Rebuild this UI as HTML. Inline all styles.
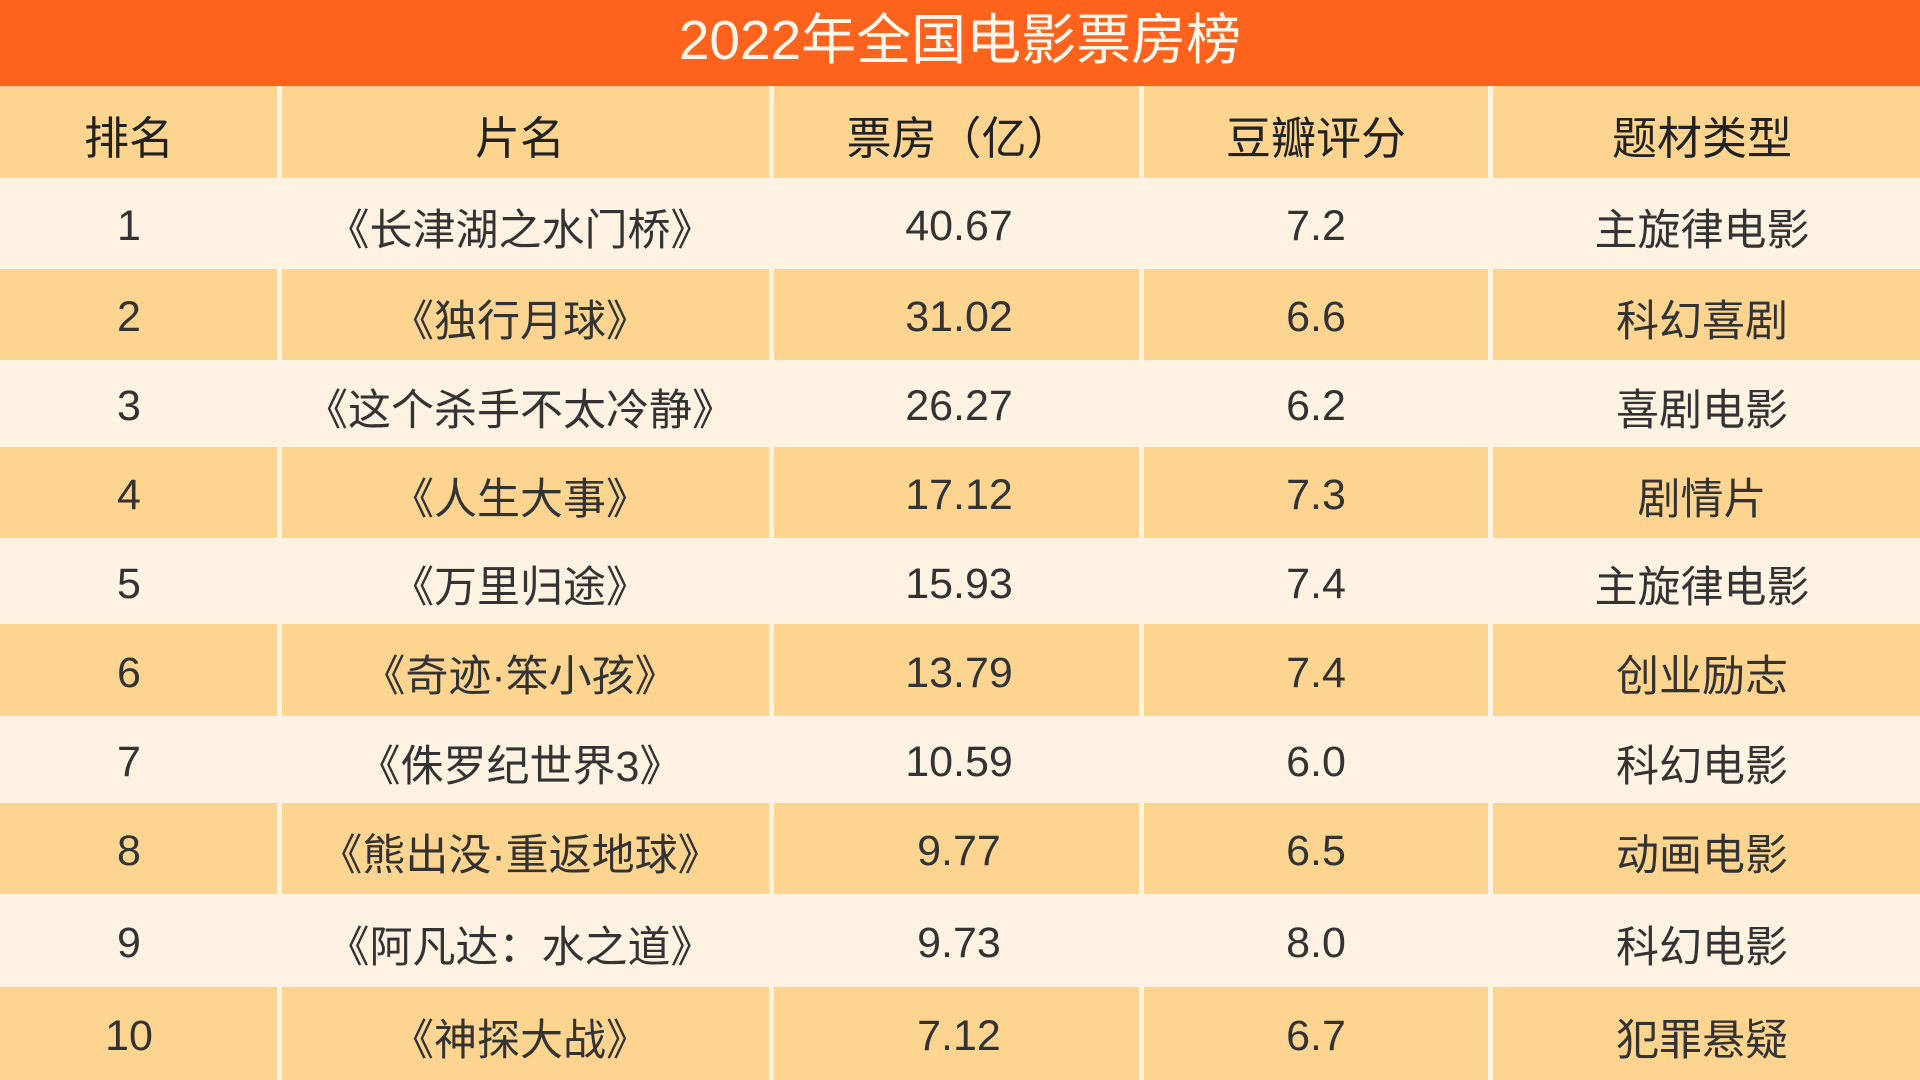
<!DOCTYPE html>
<html><head><meta charset="utf-8"><style>
*{margin:0;padding:0;box-sizing:border-box}
html,body{width:1920px;height:1080px;overflow:hidden}
body{position:relative;background:#fef3e2;font-family:"Liberation Sans","Noto Sans CJK SC",sans-serif;color:#333}
.t{position:absolute;left:0;top:0;width:1920px;height:86px;background:#fd631c;color:#fff7ec;font-size:55px;text-align:center;line-height:80px}
.r{position:absolute;left:0;width:1920px}
.d{background:#fdd590}
.l{background:#fef3e2}
.v{position:absolute;top:0;bottom:0;width:5px;background:#fef3e2}
.c{position:absolute;top:0;bottom:0;width:500px;padding-top:6px;display:flex;align-items:center;justify-content:center;font-size:43px;white-space:nowrap}
.c1{left:-121px}.c2{left:270px}.c3{left:709px}.c4{left:1066px}.c5{left:1452px}
.v1{left:277px}.v2{left:769px}.v3{left:1139px}.v4{left:1488px}
.h .c{font-size:45px;color:#222;padding-top:4px}
</style></head><body>
<div class="t">2022年全国电影票房榜</div>
<div class="r d h" style="top:86px;height:92px"><div class="v v1"></div><div class="v v2"></div><div class="v v3"></div><div class="v v4"></div><div class="c c1">排名</div><div class="c c2">片名</div><div class="c c3">票房（亿）</div><div class="c c4">豆瓣评分</div><div class="c c5">题材类型</div></div>
<div class="r l" style="top:180px;height:87px"><div class="c c1">1</div><div class="c c2">《长津湖之水门桥》</div><div class="c c3">40.67</div><div class="c c4">7.2</div><div class="c c5">主旋律电影</div></div>
<div class="r d" style="top:269px;height:91px"><div class="v v1"></div><div class="v v2"></div><div class="v v3"></div><div class="v v4"></div><div class="c c1">2</div><div class="c c2">《独行月球》</div><div class="c c3">31.02</div><div class="c c4">6.6</div><div class="c c5">科幻喜剧</div></div>
<div class="r l" style="top:362px;height:83px"><div class="c c1">3</div><div class="c c2">《这个杀手不太冷静》</div><div class="c c3">26.27</div><div class="c c4">6.2</div><div class="c c5">喜剧电影</div></div>
<div class="r d" style="top:447px;height:91px"><div class="v v1"></div><div class="v v2"></div><div class="v v3"></div><div class="v v4"></div><div class="c c1">4</div><div class="c c2">《人生大事》</div><div class="c c3">17.12</div><div class="c c4">7.3</div><div class="c c5">剧情片</div></div>
<div class="r l" style="top:540px;height:82px"><div class="c c1">5</div><div class="c c2">《万里归途》</div><div class="c c3">15.93</div><div class="c c4">7.4</div><div class="c c5">主旋律电影</div></div>
<div class="r d" style="top:624px;height:92px"><div class="v v1"></div><div class="v v2"></div><div class="v v3"></div><div class="v v4"></div><div class="c c1">6</div><div class="c c2">《奇迹·笨小孩》</div><div class="c c3">13.79</div><div class="c c4">7.4</div><div class="c c5">创业励志</div></div>
<div class="r l" style="top:718px;height:83px"><div class="c c1">7</div><div class="c c2">《侏罗纪世界3》</div><div class="c c3">10.59</div><div class="c c4">6.0</div><div class="c c5">科幻电影</div></div>
<div class="r d" style="top:803px;height:91px"><div class="v v1"></div><div class="v v2"></div><div class="v v3"></div><div class="v v4"></div><div class="c c1">8</div><div class="c c2">《熊出没·重返地球》</div><div class="c c3">9.77</div><div class="c c4">6.5</div><div class="c c5">动画电影</div></div>
<div class="r l" style="top:896px;height:89px"><div class="c c1">9</div><div class="c c2">《阿凡达：水之道》</div><div class="c c3">9.73</div><div class="c c4">8.0</div><div class="c c5">科幻电影</div></div>
<div class="r d" style="top:987px;height:93px"><div class="v v1"></div><div class="v v2"></div><div class="v v3"></div><div class="v v4"></div><div class="c c1">10</div><div class="c c2">《神探大战》</div><div class="c c3">7.12</div><div class="c c4">6.7</div><div class="c c5">犯罪悬疑</div></div>
</body></html>
